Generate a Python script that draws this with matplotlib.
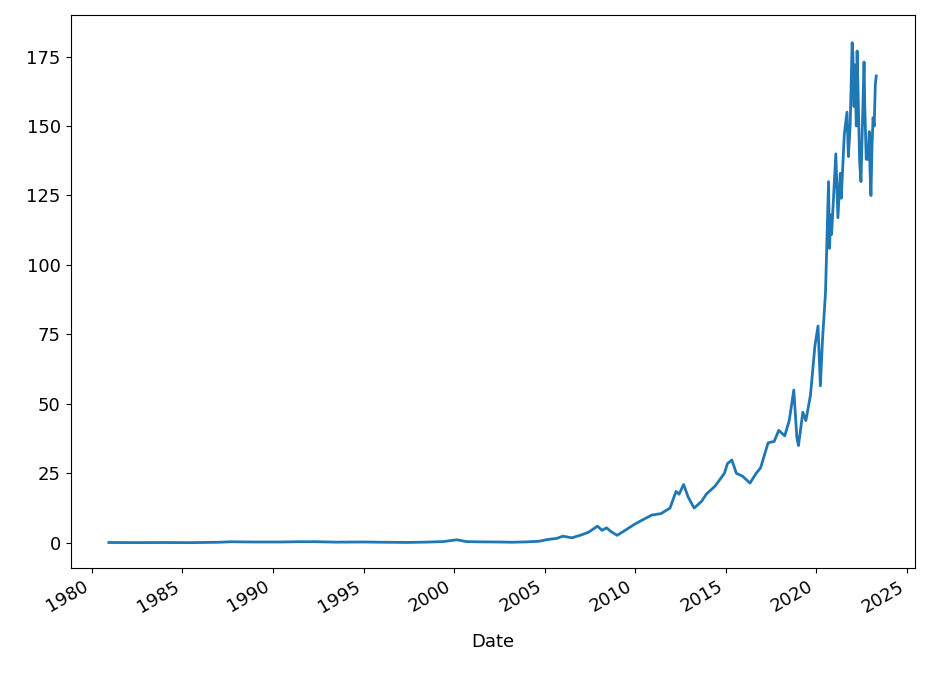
import matplotlib
matplotlib.use("Agg")
import matplotlib.pyplot as plt
import pandas as pd

# approximate closing prices
dates = ["1980-12-12", "1982-06-01", "1984-01-01", "1985-06-01", "1987-01-01", "1987-09-01",
         "1989-01-01", "1990-06-01", "1991-06-01", "1992-06-01", "1993-06-01", "1995-01-01",
         "1996-01-01", "1997-06-01", "1998-06-01", "1999-06-01", "1999-12-01", "2000-03-01",
         "2000-09-01", "2001-06-01", "2002-06-01", "2003-04-01", "2004-01-01", "2004-09-01",
         "2005-03-01", "2005-09-01", "2006-01-01", "2006-07-01", "2007-01-01", "2007-06-01",
         "2007-12-01", "2008-03-01", "2008-06-01", "2008-09-01", "2009-01-01", "2009-06-01",
         "2009-12-01", "2010-05-01", "2010-12-01", "2011-06-01", "2011-12-01", "2012-04-01",
         "2012-06-01", "2012-09-01", "2012-12-01", "2013-04-01", "2013-09-01", "2013-12-01",
         "2014-06-01", "2014-12-01", "2015-02-01", "2015-05-01", "2015-08-01", "2015-12-01",
         "2016-05-01", "2016-09-01", "2016-12-01", "2017-05-01", "2017-09-01", "2017-12-01",
         "2018-04-01", "2018-07-01", "2018-10-01", "2018-12-01", "2019-01-03", "2019-04-01",
         "2019-06-01", "2019-09-01", "2019-12-01", "2020-02-01", "2020-03-20", "2020-05-01",
         "2020-07-01", "2020-08-31", "2020-09-20", "2020-10-15", "2020-11-01", "2021-01-25",
         "2021-03-08", "2021-04-25", "2021-05-15", "2021-07-15", "2021-09-07", "2021-10-05",
         "2021-11-10", "2021-12-20", "2022-01-04", "2022-01-27", "2022-02-10", "2022-03-14",
         "2022-03-30", "2022-04-15", "2022-05-20", "2022-06-16", "2022-07-10", "2022-08-17",
         "2022-09-01", "2022-09-30", "2022-10-15", "2022-11-03", "2022-11-30", "2022-12-15",
         "2023-01-03", "2023-01-25", "2023-02-15", "2023-03-10", "2023-04-01", "2023-04-20"]
close = [0.12, 0.08, 0.11, 0.07, 0.2, 0.38, 0.3, 0.3, 0.4, 0.4, 0.25, 0.3,
         0.22, 0.14, 0.25, 0.45, 0.9, 1.1, 0.45, 0.35, 0.3, 0.22, 0.35, 0.55,
         1.2, 1.6, 2.4, 1.8, 2.8, 3.8, 6.0, 4.5, 5.4, 4.0, 2.7, 4.4,
         6.5, 8.0, 10.0, 10.5, 12.5, 18.5, 17.5, 21.0, 16.5, 12.5, 15.0, 17.5,
         20.5, 25.0, 28.5, 29.8, 25.0, 24.0, 21.5, 25.0, 27.0, 36.0, 36.5, 40.5,
         38.5, 44.0, 55.0, 38.0, 35.0, 47.0, 44.0, 53.0, 71.0, 78.0, 56.5, 73.0,
         90.0, 130.0, 106.0, 118.0, 111.0, 140.0, 117.0, 133.0, 124.0, 147.0, 155.0, 139.0,
         150.0, 180.0, 176.0, 157.0, 172.0, 150.0, 177.0, 165.0, 137.0, 130.0, 147.0, 173.0,
         157.0, 138.0, 140.0, 138.0, 148.0, 134.0, 125.0, 143.0, 153.0, 150.0, 165.0, 168.0]

series = pd.Series(close, index=pd.to_datetime(dates), name="Close")
series.index.name = "Date"

plt.rcParams["font.size"] = 13
plt.figure(figsize=(9.4, 6.76), dpi=100)
ax = series.plot(color="#1f77b4", linewidth=2)
ax.set_ylim(-9, 190)
plt.gcf().autofmt_xdate()
ax.xaxis.labelpad = 12
plt.subplots_adjust(left=0.075, right=0.973, top=0.978, bottom=0.16)
plt.savefig("out.png")
